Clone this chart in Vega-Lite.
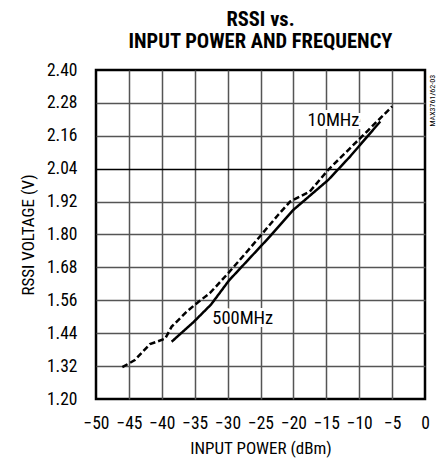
{
  "$schema": "https://vega.github.io/schema/vega-lite/v6.json",
  "autosize": {"type": "none"},
  "padding": {"left": 96, "top": 70, "right": 13, "bottom": 59},
  "width": 329,
  "height": 329,
  "title": {
    "text": ["RSSI vs.", "INPUT POWER AND FREQUENCY"],
    "fontSize": 20.5,
    "fontWeight": "bold",
    "font": "Roboto Condensed, Arial Narrow, Liberation Sans Narrow, DejaVu Sans Condensed, sans-serif",
    "color": "black",
    "anchor": "middle",
    "lineHeight": 22,
    "offset": 9
  },
  "config": {
    "font": "Roboto Condensed, Arial Narrow, Liberation Sans Narrow, DejaVu Sans Condensed, sans-serif",
    "view": {"stroke": "black", "strokeWidth": 2.5},
    "axis": {
      "labelFontSize": 17.5,
      "titleFontSize": 17,
      "titleFontWeight": "normal",
      "labelColor": "black",
      "titleColor": "black",
      "domain": false,
      "ticks": false,
      "tickSize": 0,
      "grid": true,
      "gridWidth": 1.5
    }
  },
  "datasets": {
    "curves": [
      {"series": "10MHz", "x": -46.0, "y": 1.316},
      {"series": "10MHz", "x": -44.1, "y": 1.342},
      {"series": "10MHz", "x": -42.8, "y": 1.375},
      {"series": "10MHz", "x": -41.8, "y": 1.400},
      {"series": "10MHz", "x": -39.5, "y": 1.420},
      {"series": "10MHz", "x": -38.5, "y": 1.464},
      {"series": "10MHz", "x": -36.2, "y": 1.519},
      {"series": "10MHz", "x": -34.4, "y": 1.555},
      {"series": "10MHz", "x": -32.7, "y": 1.586},
      {"series": "10MHz", "x": -29.9, "y": 1.659},
      {"series": "10MHz", "x": -26.6, "y": 1.750},
      {"series": "10MHz", "x": -22.3, "y": 1.872},
      {"series": "10MHz", "x": -20.5, "y": 1.920},
      {"series": "10MHz", "x": -17.5, "y": 1.957},
      {"series": "10MHz", "x": -14.7, "y": 2.036},
      {"series": "10MHz", "x": -9.9, "y": 2.150},
      {"series": "10MHz", "x": -5.0, "y": 2.267},
      {"series": "500MHz", "x": -38.5, "y": 1.409},
      {"series": "500MHz", "x": -35.2, "y": 1.480},
      {"series": "500MHz", "x": -32.5, "y": 1.545},
      {"series": "500MHz", "x": -29.8, "y": 1.632},
      {"series": "500MHz", "x": -23.6, "y": 1.792},
      {"series": "500MHz", "x": -20.0, "y": 1.890},
      {"series": "500MHz", "x": -14.7, "y": 1.999},
      {"series": "500MHz", "x": -11.4, "y": 2.084},
      {"series": "500MHz", "x": -6.8, "y": 2.212}
    ],
    "labels": [
      {"label": "10MHz", "x": -13.9, "y": 2.218},
      {"label": "500MHz", "x": -27.7, "y": 1.497}
    ],
    "note": [
      {"label": "MAX3761/62-03", "x": 1.2, "y": 2.288}
    ]
  },
  "encoding": {
    "x": {
      "field": "x",
      "type": "quantitative",
      "scale": {"domain": [-50, 0], "nice": false, "zero": false},
      "axis": {
        "title": "INPUT POWER (dBm)",
        "values": [-50, -45, -40, -35, -30, -25, -20, -15, -10, -5, 0],
        "format": "d",
        "labelPadding": 15,
        "labelFlush": false,
        "labelOverlap": false,
        "titlePadding": 9,
        "gridColor": "#555555",
        "gridOpacity": {
          "condition": {"test": "datum.value == -50 || datum.value == 0", "value": 0},
          "value": 1
        }
      }
    },
    "y": {
      "field": "y",
      "type": "quantitative",
      "scale": {"domain": [1.2, 2.4], "nice": false, "zero": false},
      "axis": {
        "title": "RSSI VOLTAGE (V)",
        "values": [1.2, 1.32, 1.44, 1.56, 1.68, 1.8, 1.92, 2.04, 2.16, 2.28, 2.4],
        "format": ".2f",
        "labelPadding": 19,
        "labelFlush": false,
        "labelOverlap": false,
        "titlePadding": 9,
        "gridColor": {
          "condition": {"test": "abs(datum.value - 2.04) < 0.001", "value": "black"},
          "value": "#555555"
        },
        "gridOpacity": {
          "condition": {"test": "abs(datum.value - 1.2) < 0.001 || abs(datum.value - 2.4) < 0.001", "value": 0},
          "value": 1
        }
      }
    }
  },
  "layer": [
    {
      "data": {"name": "curves"},
      "mark": {"type": "line", "color": "black", "strokeWidth": 2.5},
      "encoding": {
        "detail": {"field": "series"},
        "strokeDash": {
          "field": "series",
          "type": "nominal",
          "scale": {"domain": ["10MHz", "500MHz"], "range": [[6, 3], [1, 0]]},
          "legend": null
        }
      }
    },
    {
      "data": {"name": "labels"},
      "mark": {"type": "text", "fontSize": 18.5, "stroke": "white", "strokeWidth": 6, "color": "white"},
      "encoding": {
        "text": {"field": "label"}
      }
    },
    {
      "data": {"name": "labels"},
      "mark": {"type": "text", "fontSize": 18.5, "color": "black"},
      "encoding": {
        "text": {"field": "label"}
      }
    },
    {
      "data": {"name": "note"},
      "mark": {"type": "text", "fontSize": 8, "angle": 270, "color": "black"},
      "encoding": {
        "text": {"field": "label"}
      }
    }
  ]
}
